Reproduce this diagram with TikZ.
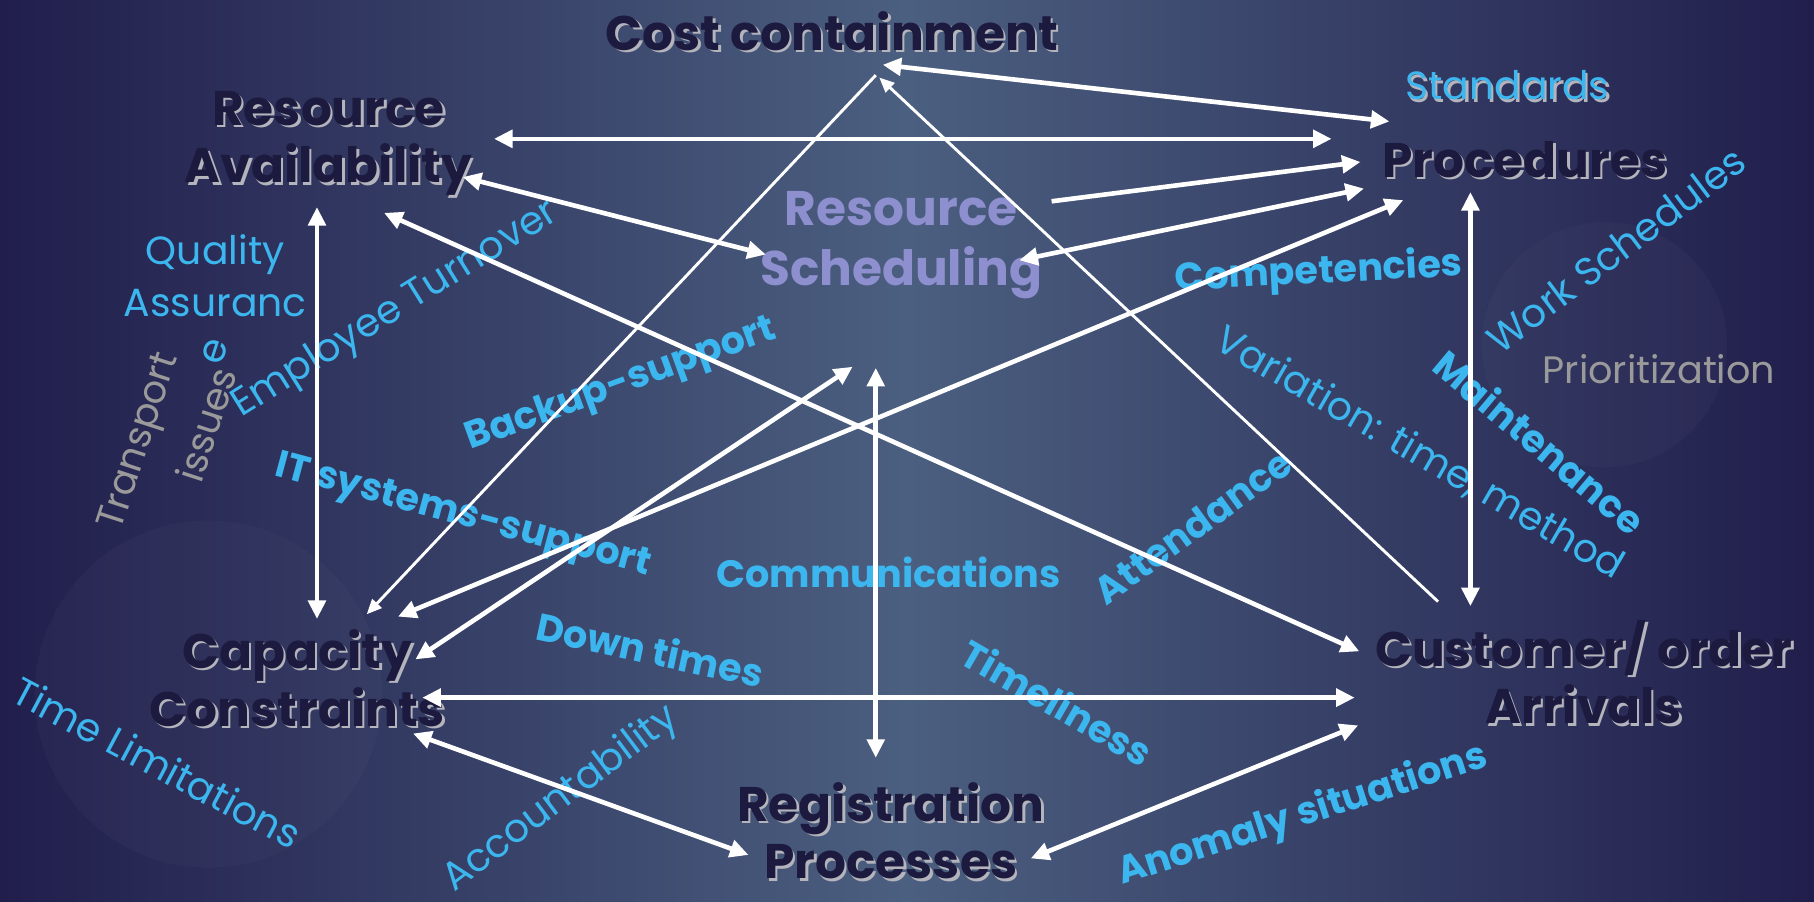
\documentclass[tikz,border=0pt]{standalone}
\usepackage{fontspec}
\setmainfont{Poppins}
\usetikzlibrary{arrows.meta}

\definecolor{bgdark}{HTML}{211E4C}
\definecolor{bglight}{HTML}{4B5F80}
\definecolor{navy}{HTML}{1C1A3E}
\definecolor{glow}{HTML}{B4B4BC}
\definecolor{sky}{HTML}{3CB6EE}
\definecolor{lav}{HTML}{8E8FCF}
\definecolor{ash}{HTML}{9A9A9A}

\tikzset{
    main/.style={text=navy, font=\bfseries\fontsize{42}{50}\selectfont, align=center, inner sep=0pt},
    sched/.style={text=lav, font=\bfseries\fontsize{42}{52}\selectfont, align=center, inner sep=0pt},
    tagb/.style={text=sky, font=\bfseries\fontsize{33}{40}\selectfont, inner sep=0pt},
    tagr/.style={text=sky, font=\fontsize{34}{45}\selectfont, align=center, inner sep=0pt},
    note/.style={text=ash, font=\fontsize{33}{40}\selectfont, inner sep=0pt},
    link/.style={draw=white, line width=4pt, {Triangle[length=16pt,width=15pt]}-{Triangle[length=16pt,width=15pt]}},
    linkto/.style={draw=white, line width=4pt, -{Triangle[length=16pt,width=15pt]}},
    leg/.style={draw=white, line width=2.5pt, -{Triangle[length=13pt,width=11pt]}}
}

% dark label with a light offset copy behind it
\newcommand{\mainlabel}[4]{%
    \node (#1-sh) at (#2+2,#3+2) [main,text=glow] {#4};
    \node (#1) at (#2,#3) [main] {#4};}

\begin{document}
\begin{tikzpicture}[x=1pt,y=-1pt]
        \useasboundingbox (0,0) rectangle (1568,779);
        \shade[left color=bgdark, right color=bgdark, middle color=bglight] (0,0) rectangle (1568,779);
        \fill[white, opacity=0.025] (180,600) circle (150);
        \fill[white, opacity=0.025] (1387,298) circle (106);

        \mainlabel{cost}{719}{27}{Cost containment}
        \mainlabel{ra}{284}{124}{Resource\\Availability}
        \mainlabel{proc}{1318}{138}{Procedures}
        \mainlabel{cap}{257}{586}{Capacity\\Constraints}
        \mainlabel{cust}{1369}{581}{Customer/ order\\Arrivals}
        \mainlabel{reg}{770}{718}{Registration\\Processes}
        \node (rs) at (779,212) [sched] {Resource\\Scheduling};

        \node (std-sh) at (1305,76) [tagr,text=glow] {Standards};
        \node (std) at (1303,74) [tagr] {Standards};
        \node (qa) at (186,238) [tagr] {Quality\\Assuranc};
        \node (qa-e) at (186,304) [tagr,rotate=72] {e};
        \node (transport) at (122,382) [note,rotate=72] {Transport};
        \node (issues) at (178,367) [note,rotate=72] {issues};
        \node (turnover) at (342,268) [tagr,rotate=32] {Employee Turnover};
        \node (backup) at (537,333) [tagb,rotate=20] {Backup-support};
        \node (itsys) at (400,447) [tagb,rotate=-15] {IT systems-support};
        \node (comms) at (768,495) [tagb] {Communications};
        \node (attend) at (1031,455) [tagb,rotate=36] {Attendance};
        \node (variation) at (1227,392) [tagr,rotate=-30] {Variation: time, method};
        \node (maint) at (1331,382) [tagb,rotate=-40] {Maintenance};
        \node (worksch) at (1397,216) [tagr,rotate=37] {Work Schedules};
        \node (prior) at (1434,319) [note] {Prioritization};
        \node (compet) at (1140,236) [tagb,rotate=3] {Competencies};
        \node (down) at (562,561) [tagb,rotate=-12] {Down times};
        \node (timely) at (914,607) [tagb,rotate=-30] {Timeliness};
        \node (account) at (485,691) [tagr,rotate=37] {Accountability};
        \node (timelim) at (136,659) [tagr,rotate=-28] {Time Limitations};
        \node (anomaly) at (1126,705) [tagb,rotate=18] {Anomaly situations};

        \draw[link] ([shift={(44,29)}]cost.center) -- ([shift={(-117,-33)}]proc.center);
        \draw[link] ([shift={(143,-4)}]ra.center) -- ([shift={(-167,-18)}]proc.center);
        \draw[linkto] ([shift={(130,-38)}]rs.center) -- ([shift={(-142,2)}]proc.center);
        \draw[link] ([shift={(-139,25)}]proc.center) -- ([shift={(102,13)}]rs.center);
        \draw[link] ([shift={(87,-53)}]cap.center) -- ([shift={(-105,35)}]proc.center);
        \draw[link] ([shift={(-10,55)}]ra.center) -- ([shift={(17,-51)}]cap.center);
        \draw[link] ([shift={(-22,106)}]rs.center) -- ([shift={(-13,-63)}]reg.center);
        \draw[link] ([shift={(-47,28)}]proc.center) -- ([shift={(-98,-57)}]cust.center);
        \draw[link] ([shift={(108,17)}]cap.center) -- ([shift={(-198,22)}]cust.center);
        \draw[link] ([shift={(100,48)}]cap.center) -- ([shift={(-123,21)}]reg.center);
        \draw[link] ([shift={(121,24)}]reg.center) -- ([shift={(-195,46)}]cust.center);
        \draw[link] ([shift={(116,29)}]ra.center) -- ([shift={(-117,8)}]rs.center);
        \draw[link] ([shift={(48,60)}]ra.center) -- ([shift={(-194,-18)}]cust.center);
        \draw[link] ([shift={(102,-16)}]cap.center) -- ([shift={(-42,105)}]rs.center);
        % the two thin sides of the triangle
        \draw[leg] ([shift={(-126,-61)}]cust.center) -- ([shift={(41,40)}]cost.center);
        \draw[leg] ([shift={(38,38)}]cost.center) -- ([shift={(60,-55)}]cap.center);
\end{tikzpicture}
\end{document}
